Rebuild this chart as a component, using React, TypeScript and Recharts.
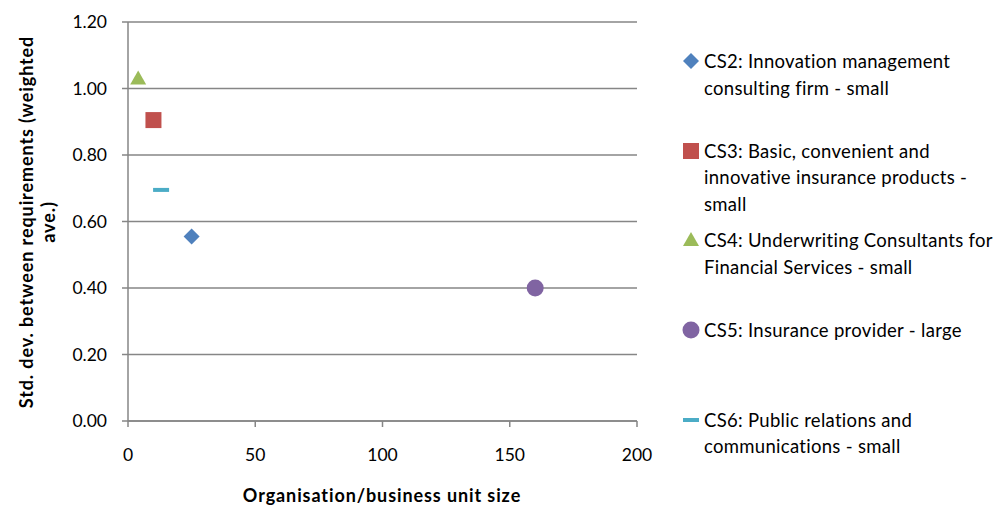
import React from "react";
import { ScatterChart, Scatter, XAxis, YAxis, CartesianGrid, Label } from "recharts";

const seriesNames = [
  "CS2: Innovation management\nconsulting firm - small",
  "CS3: Basic, convenient and\ninnovative insurance products -\nsmall",
  "CS4: Underwriting Consultants for\nFinancial Services - small",
  "CS5: Insurance provider - large",
  "CS6: Public relations and\ncommunications - small",
];
const seriesColors = ["#4F81BD", "#C0504D", "#9BBB59", "#8064A2", "#4BACC6"];
const seriesShapes = ["diamond", "square", "triangle", "circle", "dash"];
const cs2 = [{ x: 25, y: 0.555 }];
const cs3 = [{ x: 10, y: 0.905 }];
const cs4 = [{ x: 4, y: 1.03 }];
const cs5 = [{ x: 160, y: 0.4 }];
const cs6 = [{ x: 13, y: 0.695 }];
const seriesData = [cs2, cs3, cs4, cs5, cs6];
const xTicks = [0, 50, 100, 150, 200];
const yTicks = [0, 0.2, 0.4, 0.6, 0.8, 1.0, 1.2];

const FONT = "Lato, 'Open Sans', sans-serif";
const AXIS = "#868686";

function Marker({ kind, color, cx, cy }: { kind: string; color: string; cx: number; cy: number }) {
  switch (kind) {
    case "diamond":
      return <path d={`M${cx},${cy - 8} L${cx + 8},${cy} L${cx},${cy + 8} L${cx - 8},${cy} Z`} fill={color} />;
    case "square":
      return <rect x={cx - 8} y={cy - 8} width={16} height={16} fill={color} />;
    case "triangle":
      return <path d={`M${cx},${cy - 8} L${cx + 8},${cy + 6} L${cx - 8},${cy + 6} Z`} fill={color} />;
    case "circle":
      return <circle cx={cx} cy={cy} r={8.5} fill={color} />;
    default:
      return <rect x={cx - 8} y={cy - 2} width={16} height={4} fill={color} />;
  }
}

const LegendBox = () => (
  <div
    style={{
      position: "absolute",
      left: 680,
      top: 48,
      width: 317,
      fontFamily: FONT,
      fontSize: 18.5,
      letterSpacing: 0.3,
      color: "#000",
      lineHeight: "26.5px",
    }}
  >
    {seriesNames.map((name, i) => (
      <div key={i} style={{ height: 89.7, display: "flex", alignItems: "flex-start" }}>
        <svg width={24} height={26} style={{ flex: "none" }}>
          <Marker kind={seriesShapes[i]} color={seriesColors[i]} cx={11} cy={13} />
        </svg>
        <div style={{ whiteSpace: "pre-line" }}>{name}</div>
      </div>
    ))}
  </div>
);

const labelStyle = { fontFamily: FONT, fontSize: 18, fontWeight: 700, fill: "#000", letterSpacing: 0.9 } as const;

const YLabel = () => {
  const cy = 222;
  return (
    <g>
      <text x={0} y={0} transform={`translate(26, ${cy}) rotate(-90)`} textAnchor="middle" dominantBaseline="central" style={labelStyle}>
        Std. dev. between requirements (weighted
      </text>
      <text x={0} y={0} transform={`translate(48, ${cy}) rotate(-90)`} textAnchor="middle" dominantBaseline="central" style={labelStyle}>
        ave.)
      </text>
    </g>
  );
};

const XLabel = () => (
  <text x={382} y={495} textAnchor="middle" dominantBaseline="central" style={labelStyle}>
    Organisation/business unit size
  </text>
);

export default function App() {
  return (
    <div style={{ position: "absolute", left: 0, top: 0, width: 997, height: 505, background: "#fff" }}>
      <ScatterChart width={997} height={505} margin={{ top: 22, right: 360, bottom: 0, left: 0 }}>
        <CartesianGrid horizontal vertical={false} stroke={AXIS} strokeWidth={1.3} />
        <XAxis
          type="number"
          dataKey="x"
          domain={[0, 200]}
          ticks={xTicks}
          height={84}
          stroke={AXIS}
          strokeWidth={1.5}
          tickSize={6}
          tickMargin={22}
          tick={{ fill: "#000", fontSize: 17.5, fontFamily: FONT }}
        >
          <Label content={XLabel} />
        </XAxis>
        <YAxis
          type="number"
          dataKey="y"
          domain={[0, 1.2]}
          ticks={yTicks}
          width={128}
          stroke={AXIS}
          strokeWidth={1.5}
          tickSize={6}
          tickMargin={15}
          tickFormatter={(v: number) => v.toFixed(2)}
          tick={{ fill: "#000", fontSize: 17.5, fontFamily: FONT }}
        >
          <Label content={YLabel} />
        </YAxis>
        {seriesData.map((d, i) => (
          <Scatter
            key={i}
            name={seriesNames[i]}
            data={d}
            fill={seriesColors[i]}
            isAnimationActive={false}
            shape={(p: any) => <Marker kind={seriesShapes[i]} color={seriesColors[i]} cx={p.cx} cy={p.cy} />}
          />
        ))}
      </ScatterChart>
      <LegendBox />
    </div>
  );
}
